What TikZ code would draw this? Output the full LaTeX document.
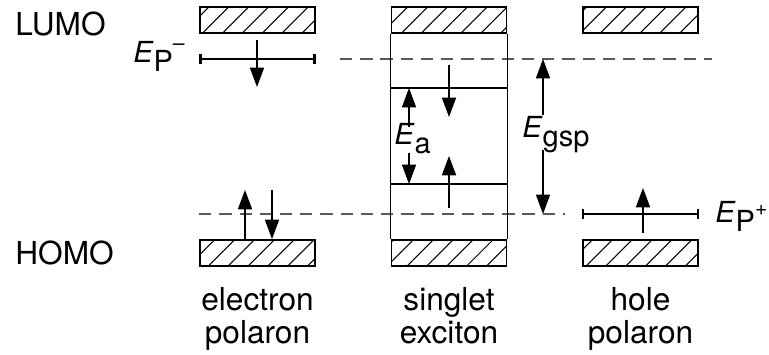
\documentclass[tikz,border=0pt]{standalone}
\usepackage{fontspec}
\setmainfont{TeX Gyre Heros}
\usetikzlibrary{arrows.meta,patterns.meta,positioning}

\newcommand{\Elev}[2]{\textit{E}\raisebox{-5pt}{#1#2}}
\newcommand{\chg}[2]{\raisebox{#1}{\fontsize{12}{12}\selectfont #2}}

\tikzset{
	band/.style={draw, line width=1pt, minimum width=2.3cm, minimum height=0.52cm, inner sep=0pt,
		pattern={Lines[angle=45,distance=8pt,line width=0.6pt]}},
	spin/.style={line width=0.9pt, -{Triangle[length=11pt,width=8pt]}},
	gaparrow/.style={line width=0.6pt, -{Triangle[length=11pt,width=8pt]}},
	level/.style={line width=1.6pt},
	polaron/.style={line width=1.2pt, {Bar[width=6pt]}-{Bar[width=6pt]}},
	guide/.style={line width=0.6pt, black!65, dash pattern=on 7pt off 4.5pt},
	word/.style={font=\fontsize{18}{19}\selectfont, align=center, inner sep=0pt},
	elab/.style={font=\fontsize{16.5}{16.5}\selectfont, inner sep=0pt},
}

\begin{document}
\begin{tikzpicture}
	\useasboundingbox (0, 0) rectangle (15.38, 7.1);
	\coordinate (upper) at (0, 5.92);
	\coordinate (lower) at (0, 2.82);

	\node[band](lumoE) at (5.15, 6.70){};
	\node[band](lumoS) at (8.98, 6.70){};
	\node[band](lumoH) at (12.81, 6.70){};
	\node[band](homoE) at (5.15, 2.04){};
	\node[band](homoS) at (8.98, 2.04){};
	\node[band](homoH) at (12.81, 2.04){};

	\node[word, anchor=west](lumo) at (0.3, 6.63){LUMO};
	\node[word, anchor=west](homo) at (0.3, 2.04){HOMO};
	\node[word, anchor=north](elec) at (5.15, 1.36){electron\\polaron};
	\node[word, anchor=north](exc) at (8.98, 1.36){singlet\\exciton};
	\node[word, anchor=north](hole) at (12.81, 1.36){hole\\polaron};

	\draw[guide] (6.8, 5.92) -- (14.24, 5.92);
	\draw[guide] (homoE.west |- lower) -- (11.3, 2.82);
	\draw[polaron] (lumoE.west |- upper) -- (lumoE.east |- upper);
	\draw[polaron] (homoH.west |- lower) -- (homoH.east |- lower);
	\node[elab, anchor=base east](Em) at (3.7, 5.84){\Elev{P}{\chg{12pt}{--}}};
	\node[elab, anchor=base west](Ep) at (14.3, 2.64){\Elev{P}{\chg{9.4pt}{+}}};

	\draw[line width=0.6pt] (lumoS.south west) -- (homoS.north west);
	\draw[line width=0.6pt] (lumoS.south east) -- (homoS.north east);
	\draw[level] (lumoS.west |- 0, 5.34) -- (lumoS.east |- 0, 5.34);
	\draw[level] (lumoS.west |- 0, 3.42) -- (lumoS.east |- 0, 3.42);

	\draw[spin] (5.14, 6.30) -- (5.14, 5.36);
	\draw[spin] (4.90, 2.30) -- (4.90, 3.30);
	\draw[spin] (5.44, 3.30) -- (5.44, 2.32);
	\draw[spin] (8.98, 5.80) -- (8.98, 4.76);
	\draw[spin] (8.98, 2.94) -- (8.98, 3.98);
	\draw[spin] (12.86, 2.44) -- (12.86, 3.34);

	\node[elab, anchor=base west](Ea) at (7.88, 4.2){\Elev{a}{}};
	\draw[gaparrow] (8.18, 4.56) -- (8.18, 5.34);
	\draw[gaparrow] (8.18, 4.04) -- (8.18, 3.42);
	\node[elab, anchor=base west](Egsp) at (10.44, 4.34){\Elev{gsp}{}};
	\draw[gaparrow] (10.86, 4.80) -- (10.86 , 5.92);
	\draw[gaparrow] (10.86, 4.10) -- (10.86, 2.82);
\end{tikzpicture}
\end{document}
